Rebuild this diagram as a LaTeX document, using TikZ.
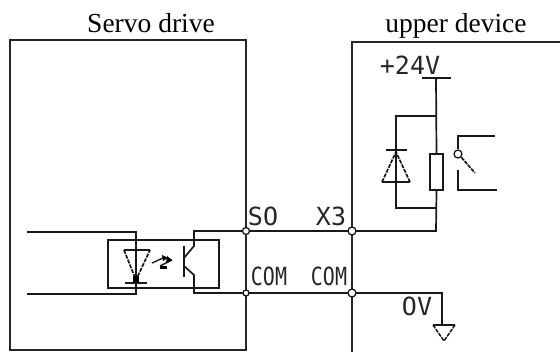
\documentclass[tikz,border=0pt]{standalone}
\usepackage{fontspec}
\setmainfont{Liberation Serif}
\newfontfamily\cadfont{DejaVu Sans Mono}
\usepackage{tikz}
\usetikzlibrary{positioning}

\begin{document}
\begin{tikzpicture}[
        x=1pt, y=-1pt,
        wire/.style={line width=1.7pt, color=black!90},
        frame/.style={
            rectangle, line width=2pt, draw = black!85, inner sep=0pt
        },
        part/.style={
            rectangle, line width=1.7pt, draw = black!90, inner sep=0pt
        },
        terminal/.style={
            circle, line width=1.3pt, draw = black!90, fill = white, inner sep=0pt, minimum size=7pt
        },
        title/.style={
            inner sep=0pt, anchor=base, font = \fontsize{27.5}{27.5}\selectfont
        },
        cadlabel/.style={
            inner sep=0pt, color = black!85, font = \fontsize{25}{25}\cadfont
        },
        sidelabel/.style={
            inner sep=0pt, color = black!85, xscale=0.8, transform shape, font = \fontsize{25}{25}\cadfont
        },
    ]
        \useasboundingbox (0,0) rectangle (560,352);

        \node (servoTitle) [title] at (151,33) {Servo drive};
        \node (upperTitle) [title] at (456,33) {upper device};

        % drive frame and upper device frame
        \node (servo) [frame,minimum width=236pt,minimum height=310pt] at (128,195) {};
        \coordinate (upperTop) at (352,42);
        \coordinate (upperEnd) at (560,42);
        \coordinate (upperLow) at (352,352);

        % terminals
        \coordinate (soPin) at (246,231);
        \coordinate (comPin) at (246,293);
        \coordinate (x3Pin) at (352,231);
        \coordinate (comInPin) at (352,293);
        \draw[wire, line width=2pt, color=black!85] (upperEnd) -- (upperTop) -- (upperLow);

        % optocoupler
        \node (opto) [part,minimum width=111pt,minimum height=48pt] at (163.5,264) {};
        \coordinate (inHigh) at (27,232);
        \coordinate (inLow) at (27,294);
        \coordinate (ledTop) at (136,232);
        \coordinate (ledLow) at (136,294);
        \draw[wire] (inHigh) -- (ledTop) -- (ledLow) -- (inLow);
        \draw[wire] (124,250) -- (150,250);
        \draw[wire, dash pattern=on 4pt off 1.2pt] (124,250) -- (136,280) -- (150,250);
        \draw[wire] (125,283) -- (147,283);
        \fill[black] (133,276) rectangle (139,283);
        \draw[wire, line width=1.4pt] (152,263) -- (163,258);
        \draw[wire, line width=1.4pt] (160,266) -- (172,260);
        \fill[black] (162,255) -- (168,258) -- (163,261) -- cycle;
        \fill[black] (167,256) -- (172,260) -- (166,263) -- cycle;
        \fill[black] (160,266) rectangle (167,269);

        \coordinate (baseHigh) at (184,246);
        \coordinate (baseLow) at (184,277);
        \coordinate (colHigh) at (194,231);
        \coordinate (emiLow) at (194,293);
        \draw[wire] (baseHigh) -- (baseLow);
        \draw[wire] (184,258) -- (194,246) -- (colHigh) -- (soPin);
        \draw[wire] (184,266) -- (194,275) -- (emiLow) -- (comPin);

        % lines between the two sides
        \coordinate (supplyDrop) at (436,231);
        \coordinate (supply) at (436,78);
        \coordinate (zeroBend) at (442,293);
        \coordinate (zeroEnd) at (442,325);
        \node (load) [part,minimum width=13pt,minimum height=36pt] at (436.5,172) {};
        \draw[wire] (soPin) -- (x3Pin) -- (supplyDrop) -- (load.south);
        \draw[wire] (load.north) -- (supply);
        \draw[wire] (comPin) -- (comInPin) -- (zeroBend) -- (zeroEnd);
        \draw[wire] (422,78) -- (451,78);

        % flyback diode
        \draw[wire] (436,116) -- (396,116) -- (396,208) -- (436,208);
        \draw[wire] (386,150) -- (407,150);
        \draw[wire] (382,182) -- (410,182);
        \draw[wire, dash pattern=on 4pt off 1.2pt] (382,182) -- (396,152) -- (410,182);

        % contact
        \node (contact) [terminal,minimum size=8pt] at (458,154) {};
        \draw[wire] (495,136) -- (458,136) -- (contact.north);
        \draw[wire, dash pattern=on 4pt off 1pt] (contact.south east) -- (475,173);
        \draw[wire] (458,170) -- (458,190) -- (497,190);

        % ground
        \draw[wire, line width=1.5pt] (433,325) -- (455,325);
        \draw[wire, line width=1.5pt, dash pattern=on 4pt off 1pt] (433,325) -- (444,341) -- (455,325);

        \node (so) [terminal] at (soPin) {};
        \node (com) [terminal,minimum size=6pt] at (comPin) {};
        \node (x3) [terminal,minimum size=8pt] at (x3Pin) {};
        \node (comIn) [terminal,minimum size=8pt] at (comInPin) {};

        \node (soText) [cadlabel] at (263,216) {SO};
        \node (xText) [cadlabel] at (331,216) {X3};
        \node (comText) [sidelabel] at (269,276) {COM};
        \node (comInText) [sidelabel] at (329,276) {COM};
        \node (zeroText) [cadlabel] at (417,306) {OV};
        \node (supplyText) [cadlabel] at (410,65) {+24V};

    \end{tikzpicture}
\end{document}
